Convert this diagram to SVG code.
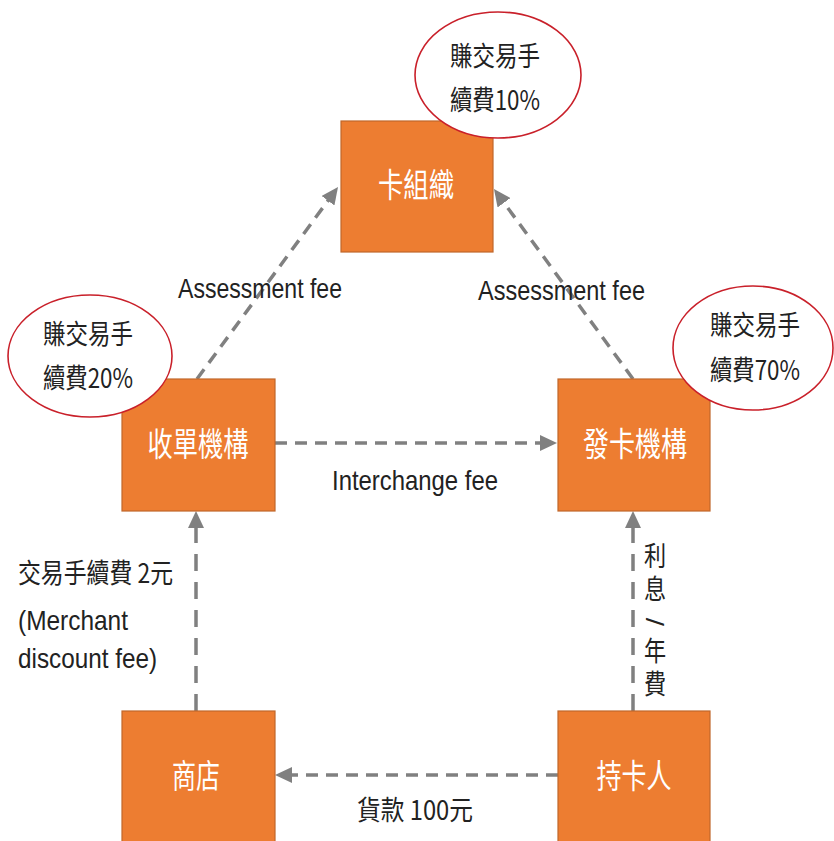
<svg xmlns="http://www.w3.org/2000/svg" width="834" height="841" viewBox="0 0 834 841">
<style>
.box{fill:#ed7d31;stroke:#c0672a;stroke-width:1.2}
.bt{fill:#ffffff;font-family:"Noto Sans CJK TC","Noto Sans CJK SC",sans-serif;font-size:33px;text-anchor:middle}
.ell{fill:#ffffff;stroke:#c9202a;stroke-width:1.6}
.et{fill:#222222;font-family:"Noto Sans CJK TC","Noto Sans CJK SC",sans-serif;font-size:27px}
.lab{fill:#222222;font-family:"Liberation Sans","Noto Sans CJK TC",sans-serif;font-size:28px}
.cj{fill:#222222;font-family:"Noto Sans CJK TC","Noto Sans CJK SC",sans-serif;font-size:27px}
.vt{fill:#222222;font-family:"Noto Sans CJK TC","Noto Sans CJK SC",sans-serif;font-size:27px;writing-mode:vertical-rl;letter-spacing:6px}
.con{stroke:#808080;stroke-width:3.5;fill:none;stroke-dasharray:12 8}
.vcon{stroke:#808080;stroke-width:3.5;fill:none;stroke-dasharray:17 11}
</style>
<defs>
<marker id="arr" markerUnits="userSpaceOnUse" markerWidth="18" markerHeight="16" viewBox="0 0 18 16" refX="7" refY="8" orient="auto">
<path d="M0,0 L17,8 L0,16 z" fill="#808080"/>
</marker>
</defs>
<rect width="834" height="841" fill="#ffffff"/>
<g id="connectors">
<line class="vcon" x1="196" y1="711" x2="196" y2="521" marker-end="url(#arr)"/>
<line class="vcon" x1="633" y1="711" x2="633" y2="521" marker-end="url(#arr)"/>
<line class="con" x1="558" y1="775" x2="285" y2="775" marker-end="url(#arr)"/>
<line class="con" x1="275" y1="443" x2="547" y2="443" marker-end="url(#arr)"/>
<line class="con" x1="197" y1="379" x2="332.1" y2="195.1" marker-end="url(#arr)"/>
<line class="con" x1="633" y1="379" x2="499.9" y2="197.1" marker-end="url(#arr)"/>
</g>
<g id="labels">
<text class="lab" x="178" y="298" textLength="164" lengthAdjust="spacingAndGlyphs">Assessment fee</text>
<text class="lab" x="478" y="300" textLength="167" lengthAdjust="spacingAndGlyphs">Assessment fee</text>
<text class="lab" x="332" y="490" textLength="166" lengthAdjust="spacingAndGlyphs">Interchange fee</text>
<text class="cj" x="18" y="583" textLength="155" lengthAdjust="spacingAndGlyphs">交易手續費 2元</text>
<text class="lab" x="18" y="630" textLength="110" lengthAdjust="spacingAndGlyphs">(Merchant</text>
<text class="lab" x="18" y="668" textLength="139" lengthAdjust="spacingAndGlyphs">discount fee)</text>
<text class="cj" x="357" y="820" textLength="116" lengthAdjust="spacingAndGlyphs">貨款 100元</text>
<g id="interest-label" transform="translate(655,0) scale(0.82,1) translate(-655,0)">
<text class="vt" x="655" y="542">利息</text>
<text x="655" y="622" font-family="Liberation Sans, sans-serif" font-size="30" fill="#222222" text-anchor="middle" dominant-baseline="central" transform="rotate(90 655 622)">/</text>
<text class="vt" x="655" y="637">年費</text>
</g>
</g>
<g id="card-org">
<rect class="box" x="341" y="121" width="152" height="131"/>
<text class="bt" x="416" y="197" textLength="76" lengthAdjust="spacingAndGlyphs">卡組織</text>
</g>
<g id="acquirer">
<rect class="box" x="122" y="379" width="153" height="132"/>
<text class="bt" x="198" y="456" textLength="101" lengthAdjust="spacingAndGlyphs">收單機構</text>
</g>
<g id="issuer">
<rect class="box" x="558" y="379" width="152" height="132"/>
<text class="bt" x="635" y="456" textLength="104" lengthAdjust="spacingAndGlyphs">發卡機構</text>
</g>
<g id="merchant">
<rect class="box" x="122" y="711" width="153" height="140"/>
<text class="bt" x="196" y="788" textLength="48" lengthAdjust="spacingAndGlyphs">商店</text>
</g>
<g id="cardholder">
<rect class="box" x="558" y="711" width="152" height="140"/>
<text class="bt" x="634" y="788" textLength="75" lengthAdjust="spacingAndGlyphs">持卡人</text>
</g>
<g id="note-card-org">
<ellipse class="ell" cx="498" cy="75" rx="83" ry="63"/>
<text class="et" x="450" y="66" textLength="90" lengthAdjust="spacingAndGlyphs">賺交易手</text>
<text class="et" x="450" y="110" textLength="90" lengthAdjust="spacingAndGlyphs">續費10%</text>
</g>
<g id="note-acquirer">
<ellipse class="ell" cx="90" cy="356" rx="82" ry="61"/>
<text class="et" x="43" y="344" textLength="90" lengthAdjust="spacingAndGlyphs">賺交易手</text>
<text class="et" x="43" y="388" textLength="90" lengthAdjust="spacingAndGlyphs">續費20%</text>
</g>
<g id="note-issuer">
<ellipse class="ell" cx="753" cy="348" rx="80" ry="62"/>
<text class="et" x="710" y="335" textLength="90" lengthAdjust="spacingAndGlyphs">賺交易手</text>
<text class="et" x="710" y="380" textLength="90" lengthAdjust="spacingAndGlyphs">續費70%</text>
</g>
</svg>
